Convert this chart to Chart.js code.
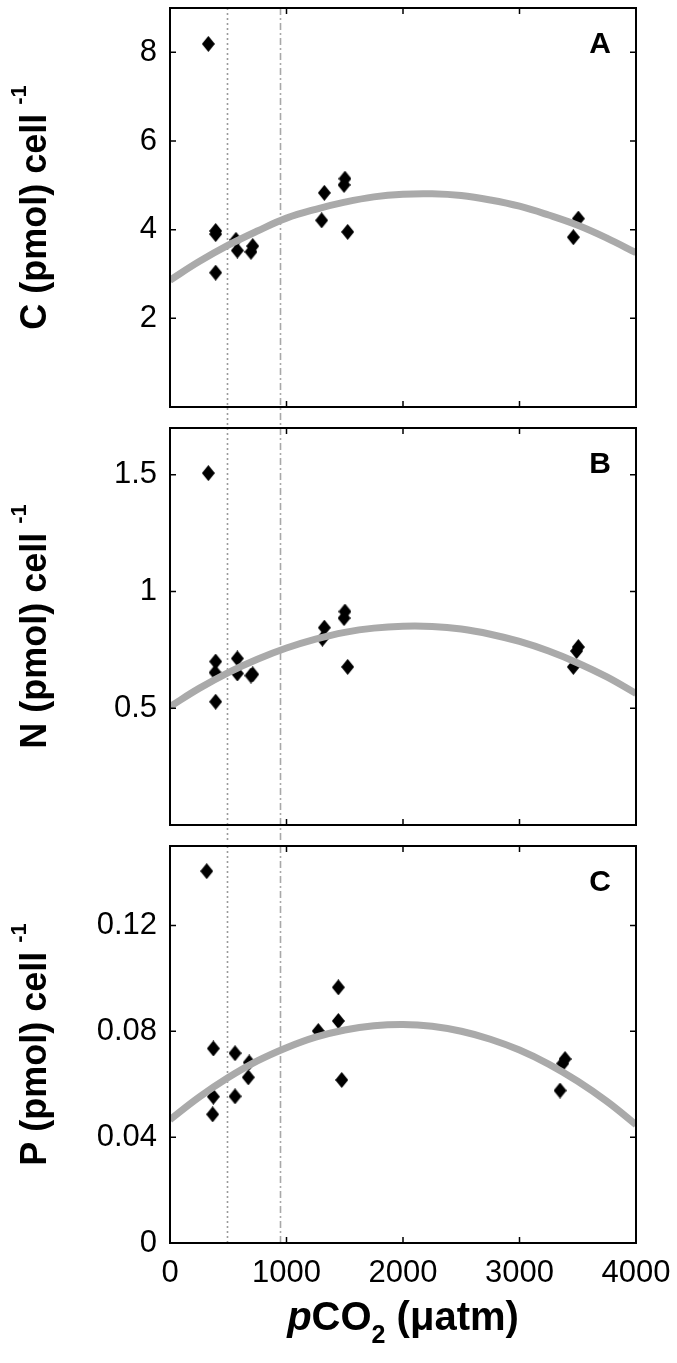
<!DOCTYPE html>
<html><head><meta charset="utf-8">
<script src="https://cdn.jsdelivr.net/npm/chart.js@4.4.0/dist/chart.umd.min.js"></script>
<style>
html,body{margin:0;padding:0;background:#fff;width:677px;height:1363px;overflow:hidden}
canvas{position:absolute;left:0}
</style></head>
<body>
<canvas id="cA" width="677" height="425" style="top:0px"></canvas>
<canvas id="cB" width="677" height="423" style="top:420px"></canvas>
<canvas id="cC" width="677" height="525" style="top:838px"></canvas>
<script>
// ---- data ----
const pco2A = [329, 392, 392, 392, 566, 578, 710, 695, 1325, 1302, 1502, 1494, 1525, 3505, 3462];
const carbon = [8.19, 3.97, 3.90, 3.03, 3.77, 3.53, 3.63, 3.50, 4.83, 4.21, 5.15, 5.01, 3.95, 4.25, 3.83];

const pco2B = [329, 392, 387, 392, 578, 578, 710, 695, 1325, 1308, 1502, 1494, 1525, 3505, 3490, 3462];
const nitrogen = [1.507, 0.70, 0.653, 0.528, 0.713, 0.649, 0.645, 0.64, 0.845, 0.798, 0.914, 0.886, 0.677, 0.762, 0.745, 0.677];

const pco2C = [315, 372, 372, 366, 558, 558, 672, 680, 1273, 1445, 1445, 1474, 3391, 3371, 3348];
const phosphorus = [0.1405, 0.0735, 0.0553, 0.0486, 0.0717, 0.0554, 0.0626, 0.0682, 0.0801, 0.0839, 0.0966, 0.0616, 0.0695, 0.0678, 0.0576];

// fitted curves, read every 250 µatm
const fitX = [0, 250, 500, 750, 1000, 1250, 1500, 1750, 2000, 2250, 2500, 2750, 3000, 3250, 3500, 3750, 4000];
const fitA = [2.86, 3.28, 3.65, 3.97, 4.26, 4.46, 4.62, 4.74, 4.80, 4.81, 4.77, 4.67, 4.53, 4.33, 4.10, 3.81, 3.48];
const fitB = [0.507, 0.585, 0.653, 0.710, 0.758, 0.796, 0.825, 0.843, 0.851, 0.850, 0.839, 0.817, 0.786, 0.745, 0.694, 0.634, 0.563];
const fitC = [0.0466, 0.0551, 0.0625, 0.0688, 0.0738, 0.0778, 0.0805, 0.0821, 0.0826, 0.0819, 0.0800, 0.0770, 0.0729, 0.0676, 0.0611, 0.0535, 0.0447];

const refLines = [490, 945];   // dotted, dash-dot (µatm)

const xTicks = [0, 1000, 2000, 3000, 4000];
const xTickLabels = ['0', '1000', '2000', '3000', '4000'];
const yTicksA = [2, 4, 6, 8];
const yTickLabelsA = ['2', '4', '6', '8'];
const yTicksB = [0.5, 1, 1.5];
const yTickLabelsB = ['0.5', '1', '1.5'];
const yTicksC = [0, 0.04, 0.08, 0.12];
const yTickLabelsC = ['0', '0.04', '0.08', '0.12'];

// ---- helpers ----
function makeDiamond(w, h) {
  const c = document.createElement('canvas');
  c.width = w; c.height = h;
  const g = c.getContext('2d');
  g.fillStyle = '#000';
  g.beginPath();
  g.moveTo(w / 2, 0); g.lineTo(w, h / 2); g.lineTo(w / 2, h); g.lineTo(0, h / 2);
  g.closePath(); g.fill();
  return c;
}
const diamond = makeDiamond(13, 16);

const FONT = '"Liberation Sans", Arial, Helvetica, sans-serif';

const panelPlugin = {
  id: 'panel',
  beforeDatasetsDraw(chart, args, o) {
    const ctx = chart.ctx, a = chart.chartArea, xs = chart.scales.x;
    const yEnd = o.linesToCanvasBottom ? chart.height : a.bottom;
    ctx.save();
    ctx.lineWidth = 1.6;
    ctx.strokeStyle = '#9a9a9a';
    let px = Math.round(xs.getPixelForValue(refLines[0])) + 0.5;
    ctx.setLineDash([2, 3]);
    ctx.beginPath(); ctx.moveTo(px, a.top); ctx.lineTo(px, yEnd); ctx.stroke();
    ctx.strokeStyle = '#a8a8a8';
    px = Math.round(xs.getPixelForValue(refLines[1])) + 0.5;
    ctx.setLineDash([7, 3, 2, 3]);
    ctx.beginPath(); ctx.moveTo(px, a.top); ctx.lineTo(px, yEnd); ctx.stroke();
    ctx.restore();
  },
  afterDatasetsDraw(chart, args, o) {
    const ctx = chart.ctx, a = chart.chartArea, xs = chart.scales.x, ys = chart.scales.y;
    ctx.save();
    ctx.setLineDash([]);
    ctx.strokeStyle = '#000';
    ctx.lineWidth = 2;
    ctx.strokeRect(a.left, a.top, a.right - a.left, a.bottom - a.top);
    const tl = 6;
    ctx.lineWidth = 1.5;
    ctx.beginPath();
    xTicks.forEach(v => {
      const p = xs.getPixelForValue(v);
      ctx.moveTo(p, a.bottom); ctx.lineTo(p, a.bottom - tl);
      ctx.moveTo(p, a.top); ctx.lineTo(p, a.top + tl);
    });
    o.yTicks.forEach(v => {
      const p = ys.getPixelForValue(v);
      ctx.moveTo(a.left, p); ctx.lineTo(a.left + tl, p);
      ctx.moveTo(a.right, p); ctx.lineTo(a.right - tl, p);
    });
    ctx.stroke();

    // panel letter
    ctx.fillStyle = '#000';
    ctx.font = 'bold 30px ' + FONT;
    ctx.textAlign = 'center';
    ctx.textBaseline = 'alphabetic';
    ctx.fillText(o.letter, 600, a.top + 45);

    // y title with superscript
    const cy = (a.top + a.bottom) / 2;
    ctx.translate(46, cy);
    ctx.rotate(-Math.PI / 2);
    ctx.textAlign = 'left';
    ctx.font = 'bold 36px ' + FONT;
    const wMain = ctx.measureText(o.yTitle).width;
    const gap = 9;
    ctx.font = 'bold 22px ' + FONT;
    const wSup = ctx.measureText('-1').width;
    const start = -(wMain + gap + wSup) / 2;
    ctx.font = 'bold 36px ' + FONT;
    ctx.fillText(o.yTitle, start, 0);
    ctx.font = 'bold 22px ' + FONT;
    ctx.fillText('-1', start + wMain + gap, -20);
    ctx.setTransform(1, 0, 0, 1, 0, 0);

    // x title
    if (o.xTitle) {
      const parts = [
        {t: 'p', f: 'italic bold 40px ' + FONT, dy: 0},
        {t: 'CO', f: 'bold 40px ' + FONT, dy: 0},
        {t: '2', f: 'bold 25px ' + FONT, dy: 13},
        {t: ' (\u03bcatm)', f: 'bold 40px ' + FONT, dy: 0}
      ];
      let total = 0;
      parts.forEach(p => { ctx.font = p.f; p.w = ctx.measureText(p.t).width; total += p.w; });
      let x = (a.left + a.right) / 2 - total / 2;
      const base = 492;
      parts.forEach(p => { ctx.font = p.f; ctx.fillText(p.t, x, base + p.dy); x += p.w; });
    }
    ctx.restore();
  }
};

function makePanel(id, xs, ys, fit, yMax, yTicks, yLabels, letter, yTitle, last) {
  const pts = xs.map((x, i) => ({x: x, y: ys[i]}));
  const fitPts = fitX.map((x, i) => ({x: x, y: fit[i]}));
  return new Chart(document.getElementById(id), {
    type: 'scatter',
    data: {
      datasets: [
        {type: 'line', data: fitPts, showLine: true, borderColor: '#aaaaaa', borderWidth: 7,
         pointRadius: 0, tension: 0.4, fill: false, order: 0, borderCapStyle: 'butt'},
        {data: pts, pointStyle: diamond, pointRadius: 7, backgroundColor: '#000', borderColor: '#000', order: 1}
      ]
    },
    options: {
      responsive: false,
      devicePixelRatio: 1,
      animation: false,
      events: [],
      layout: {padding: {left: 0, right: 41, top: last ? 5 : (id === 'cA' ? 7 : 5), bottom: last ? 0 : 18}},
      plugins: {
        legend: {display: false}, tooltip: {enabled: false}, title: {display: false},
        panel: {letter: letter, yTitle: yTitle, yTicks: yTicks, xTitle: last, linesToCanvasBottom: !last}
      },
      scales: {
        x: {
          type: 'linear', min: 0, max: 4000, display: last,
          grid: {display: false, drawTicks: false}, border: {display: false},
          afterBuildTicks: s => { s.ticks = xTicks.map(v => ({value: v})); },
          afterFit: s => { if (last) s.height = 120; s.paddingLeft = 0; s.paddingRight = 0; },
          ticks: {padding: 12, color: '#000', font: {family: FONT, size: 31}, maxRotation: 0,
                  callback: (v, i) => xTickLabels[i]}
        },
        y: {
          type: 'linear', min: 0, max: yMax,
          grid: {display: false, drawTicks: false}, border: {display: false},
          afterBuildTicks: s => { s.ticks = yTicks.map(v => ({value: v})); },
          afterFit: s => { s.width = 170; s.paddingTop = 0; s.paddingBottom = 0; },
          ticks: {padding: 13, color: '#000', font: {family: FONT, size: 31},
                  callback: (v, i) => yLabels[i]}
        }
      }
    },
    plugins: [panelPlugin]
  });
}

makePanel('cA', pco2A, carbon, fitA, 9, yTicksA, yTickLabelsA, 'A', 'C (pmol) cell', false);
makePanel('cB', pco2B, nitrogen, fitB, 1.7, yTicksB, yTickLabelsB, 'B', 'N (pmol) cell', false);
makePanel('cC', pco2C, phosphorus, fitC, 0.15, yTicksC, yTickLabelsC, 'C', 'P (pmol) cell', true);
</script>
</body></html>
